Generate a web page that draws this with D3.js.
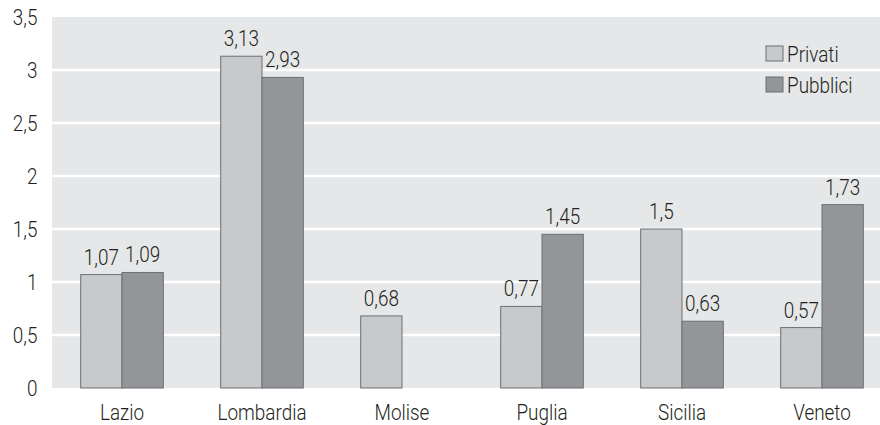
<!DOCTYPE html>
<html>
<head>
<meta charset="utf-8">
<script src="https://cdn.jsdelivr.net/npm/d3@7"></script>
<style>
  body { margin: 0; background: #fff; }
  svg text { font-family: "Roboto", sans-serif; font-weight: 300; fill: #231f20; }
</style>
</head>
<body>
<div id="chart"></div>
<script>
// data
const regions = ["Lazio", "Lombardia", "Molise", "Puglia", "Sicilia", "Veneto"];
const privati = [1.07, 3.13, 0.68, 0.77, 1.5, 0.57];
const pubblici = [1.09, 2.93, null, 1.45, 0.63, 1.73];
const series = ["Privati", "Pubblici"];
const yTicks = [0, 0.5, 1, 1.5, 2, 2.5, 3, 3.5];

const W = 880, H = 425;
const margin = { top: 17, left: 52, bottom: 37 };
const squeeze = 0.86; // condensed look
const fs = 22;

const svg = d3.select("#chart").append("svg")
    .attr("width", W)
    .attr("height", H);

const x = d3.scaleBand()
    .domain(regions)
    .range([margin.left, margin.left + 840])
    .paddingInner(0.41)
    .paddingOuter(0.205);

const xSub = d3.scaleBand()
    .domain(series)
    .range([0, x.bandwidth()]);

const y = d3.scaleLinear()
    .domain([0, 3.5])
    .range([H - margin.bottom, margin.top]);

const color = d3.scaleOrdinal()
    .domain(series)
    .range(["#c8c9cb", "#939598"]);

const fmt = v => String(v).replace(".", ",");

// plot background
svg.append("rect")
    .attr("x", margin.left)
    .attr("y", y(3.5))
    .attr("width", W - margin.left)
    .attr("height", y(0) - y(3.5))
    .attr("fill", "#e6e7e8");

// gridlines
svg.append("g")
    .selectAll("line")
    .data(yTicks.filter(d => d > 0 && d < 3.5))
    .join("line")
    .attr("x1", margin.left)
    .attr("x2", W)
    .attr("y1", d => y(d))
    .attr("y2", d => y(d))
    .attr("stroke", "#fff")
    .attr("stroke-width", 2.5);

// y axis labels
const yAxis = svg.append("g")
    .attr("transform", `translate(${margin.left},0)`)
    .call(d3.axisLeft(y).tickValues(yTicks).tickSize(0).tickPadding(17).tickFormat(fmt));
yAxis.select(".domain").remove();
yAxis.selectAll("text")
    .attr("font-size", fs)
    .attr("fill", "#231f20")
    .attr("transform", `scale(${squeeze},1)`);

// x axis labels
const xAxis = svg.append("g")
    .attr("transform", `translate(0,${y(0)})`)
    .call(d3.axisBottom(x).tickSize(0).tickPadding(16));
xAxis.select(".domain").remove();
xAxis.selectAll("text")
    .attr("font-size", fs)
    .attr("fill", "#231f20")
    .attr("transform", `scale(${squeeze},1)`);

// bars
const rows = regions.map((r, i) => ({ region: r, values: [
    { key: "Privati", value: privati[i] },
    { key: "Pubblici", value: pubblici[i] }
] }));

const groups = svg.append("g")
    .selectAll("g")
    .data(rows)
    .join("g")
    .attr("transform", d => `translate(${x(d.region)},0)`);

groups.selectAll("rect")
    .data(d => d.values.filter(v => v.value != null))
    .join("rect")
    .attr("x", d => xSub(d.key))
    .attr("y", d => y(d.value))
    .attr("width", xSub.bandwidth())
    .attr("height", d => y(0) - y(d.value))
    .attr("fill", d => color(d.key))
    .attr("stroke", "#6d6e70")
    .attr("stroke-width", 1);

groups.selectAll("text")
    .data(d => d.values.filter(v => v.value != null))
    .join("text")
    .attr("transform", d => `translate(${xSub(d.key) + xSub.bandwidth() / 2},${y(d.value) - 10}) scale(${squeeze},1)`)
    .attr("text-anchor", "middle")
    .attr("font-size", fs)
    .text(d => fmt(d.value));

// legend
const legend = svg.append("g")
    .attr("transform", "translate(766,46)")
    .selectAll("g")
    .data(series)
    .join("g")
    .attr("transform", (d, i) => `translate(0,${i * 31})`);

legend.append("rect")
    .attr("width", 17)
    .attr("height", 15)
    .attr("fill", d => color(d))
    .attr("stroke", "#6d6e70")
    .attr("stroke-width", 1);

legend.append("text")
    .attr("transform", `translate(21,8) scale(${squeeze},1)`)
    .attr("dy", "0.35em")
    .attr("font-size", fs)
    .text(d => d);
</script>
</body>
</html>
